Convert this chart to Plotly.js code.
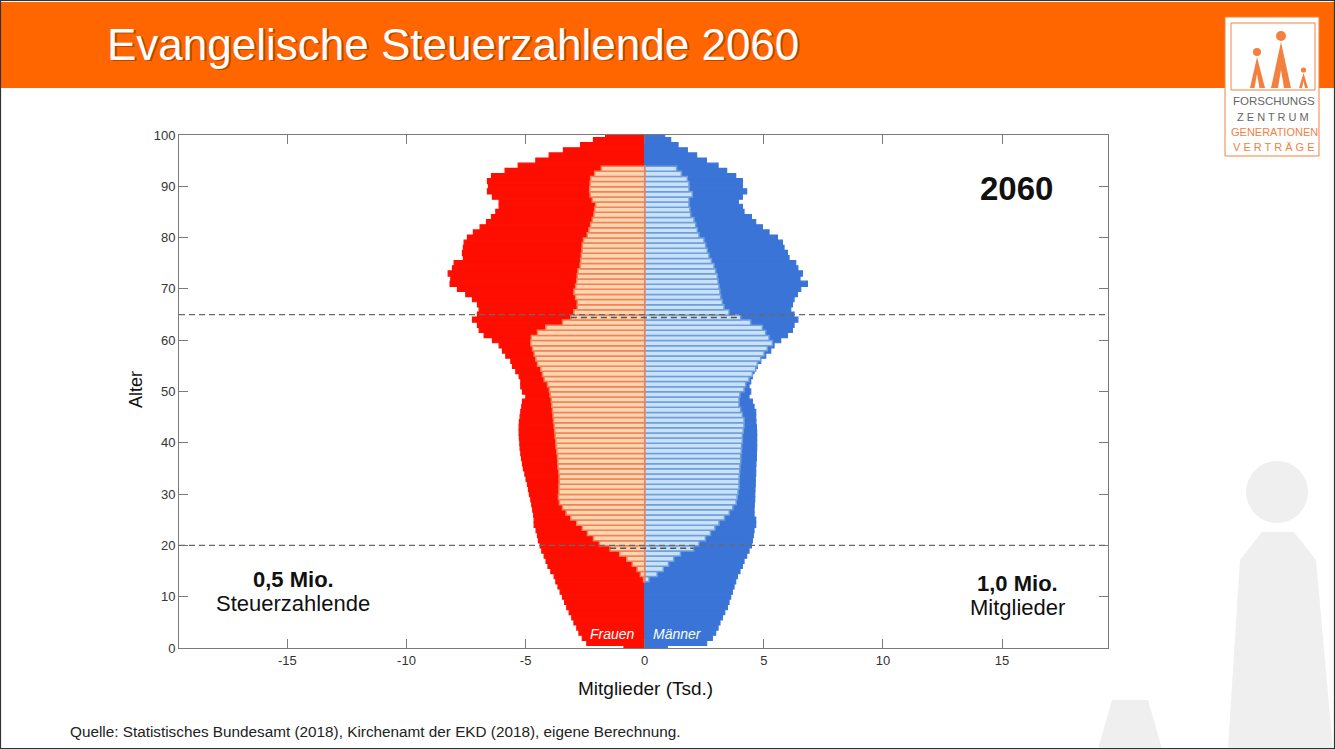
<!DOCTYPE html>
<html>
<head>
<meta charset="utf-8">
<script src="https://cdn.plot.ly/plotly-3.0.1.min.js"></script>
<style>
html,body{margin:0;padding:0;background:#fff;}
#chart{width:1335px;height:749px;}
</style>
</head>
<body>
<div id="chart"></div>
<script>

/* ==========================================
   DATA (Mitglieder / Steuerzahlende, Tsd.)
========================================== */

const ages = [
0,1,2,3,4,5,6,7,8,9,
10,11,12,13,14,15,16,17,18,19,
20,21,22,23,24,25,26,27,28,29,
30,31,32,33,34,35,36,37,38,39,
40,41,42,43,44,45,46,47,48,49,
50,51,52,53,54,55,56,57,58,59,
60,61,62,63,64,65,66,67,68,69,
70,71,72,73,74,75,76,77,78,79,
80,81,82,83,84,85,86,87,88,89,
90,91,92,93,94,95,96,97,98,99,
100];

const femaleMembers = [
0.87,2.43,2.62,2.76,2.85,2.97,3.06,3.17,3.27,3.36,
3.45,3.55,3.64,3.73,3.80,3.94,4.06,4.14,4.22,4.32,
4.39,4.46,4.50,4.56,4.64,4.64,4.66,4.70,4.74,4.78,
4.84,4.88,4.92,4.98,5.03,5.09,5.13,5.17,5.20,5.23,
5.24,5.26,5.27,5.27,5.26,5.23,5.20,5.16,5.13,4.99,
5.13,5.20,5.20,5.27,5.41,5.55,5.62,5.83,5.97,6.11,
6.39,6.74,6.95,7.02,7.23,7.02,6.95,7.02,7.23,7.51,
7.86,8.17,8.14,8.25,8.07,8.00,7.61,7.65,7.61,7.58,
7.44,7.19,6.91,6.64,6.43,6.25,6.11,6.11,6.39,6.60,
6.56,6.60,6.43,5.86,5.31,4.57,4.01,3.41,2.69,2.15,
1.64];

const maleMembers = [
0.95,2.60,2.84,2.98,3.08,3.16,3.26,3.36,3.47,3.54,
3.61,3.68,3.75,3.82,3.89,4.00,4.10,4.17,4.28,4.38,
4.48,4.52,4.56,4.59,4.66,4.66,4.59,4.59,4.60,4.62,
4.62,4.63,4.64,4.64,4.66,4.66,4.67,4.69,4.69,4.70,
4.70,4.70,4.70,4.69,4.67,4.66,4.66,4.59,4.52,4.38,
4.45,4.38,4.45,4.52,4.59,4.73,4.87,5.08,5.29,5.43,
5.71,5.99,6.20,6.27,6.43,6.27,6.13,6.20,6.27,6.41,
6.55,6.83,6.52,6.62,6.43,6.34,6.06,5.99,5.85,5.78,
5.57,5.22,4.94,4.66,4.48,4.17,4.10,3.93,4.10,4.28,
4.10,4.10,3.82,3.44,3.08,2.59,2.18,1.79,1.40,1.09,
0.84];

const taxAges = [
14,15,16,17,18,19,
20,21,22,23,24,25,26,27,28,29,
30,31,32,33,34,35,36,37,38,39,
40,41,42,43,44,45,46,47,48,49,
50,51,52,53,54,55,56,57,58,59,
60,61,62,63,64,65,66,67,68,69,
70,71,72,73,74,75,76,77,78,79,
80,81,82,83,84,85,86,87,88,89,
90,91,92,93,94];

const femaleTax = [
0.05,0.18,0.32,0.52,0.75,1.05,
1.45,1.90,2.15,2.40,2.62,2.85,3.10,3.30,3.45,3.58,
3.62,3.60,3.60,3.59,3.59,3.61,3.64,3.65,3.66,3.69,
3.72,3.73,3.76,3.78,3.80,3.83,3.85,3.87,3.90,3.92,
3.97,4.00,4.08,4.22,4.29,4.36,4.50,4.57,4.64,4.71,
4.78,4.76,4.50,4.15,3.45,3.10,2.97,2.83,2.83,2.90,
2.97,2.90,2.85,2.83,2.80,2.71,2.69,2.66,2.63,2.62,
2.57,2.41,2.34,2.27,2.20,2.13,2.10,2.06,2.20,2.29,
2.31,2.29,2.27,2.10,1.82];

const maleTax = [
0.18,0.52,0.78,1.00,1.22,1.50,
2.05,2.28,2.55,2.76,2.95,3.12,3.35,3.55,3.70,3.84,
3.88,3.92,3.96,3.96,3.97,3.99,4.00,4.03,4.03,4.06,
4.07,4.10,4.10,4.14,4.17,4.17,4.10,4.03,3.96,3.96,
4.00,4.17,4.24,4.38,4.52,4.66,4.73,4.87,5.01,5.15,
5.36,5.22,5.08,4.94,4.45,4.03,3.54,3.33,3.26,3.19,
3.16,3.12,3.08,3.05,2.98,2.91,2.80,2.70,2.63,2.56,
2.49,2.28,2.21,2.14,2.07,1.93,1.90,1.86,1.86,2.00,
1.86,1.86,1.79,1.54,1.34];

const xTickVals = [-15,-10,-5,0,5,10,15];
const xTickText = ["-15","-10","-5","0","5","10","15"];
const yTickVals = [0,10,20,30,40,50,60,70,80,90,100];

const limitAges = [20,65];


/* ==========================================
   LAYOUT HELPERS (pixel -> paper)
========================================== */

const PLOT_L = 179, PLOT_R = 1108, PLOT_T = 135, PLOT_B = 648;

// inner picture (taxpayers) sits a little lower than the outer one
const INNER_SHIFT = 0.57;

function px(x){ return (x-PLOT_L)/(PLOT_R-PLOT_L); }

function py(y){ return (PLOT_B-y)/(PLOT_B-PLOT_T); }

function pathOf(points){
    return points.map((p,i)=>(i===0?"M":"L")+px(p[0]).toFixed(5)+","+py(p[1]).toFixed(5)).join(" ")+" Z";
}

function circleOf(cx,cy,r,color,layer){
    return {
        type:"circle", xref:"paper", yref:"paper", layer:layer||"above",
        x0:px(cx-r), x1:px(cx+r), y0:py(cy+r), y1:py(cy-r),
        fillcolor:color, line:{width:0}
    };
}

function polyOf(points,color,layer){
    return {
        type:"path", xref:"paper", yref:"paper", layer:layer||"above",
        path:pathOf(points), fillcolor:color, line:{width:0}
    };
}

const FONT = "Liberation Sans, Arial, sans-serif";
const ORANGE = "#ff6600";
const LOGO = "#f4803f";
const WATER = "#efefef";


/* ==========================================
   TRACES
========================================== */

const traces = [
    {
        type:"bar", orientation:"h",
        y:ages, x:femaleMembers.map(v=>-v), width:1,
        marker:{color:"#fe0e00", line:{color:"#fe0e00", width:1.2}},
        hoverinfo:"skip", showlegend:false
    },
    {
        type:"bar", orientation:"h",
        y:ages, x:maleMembers, width:1,
        marker:{color:"#3a74d6", line:{color:"#3a74d6", width:1.2}},
        hoverinfo:"skip", showlegend:false
    },
    {
        type:"bar", orientation:"h",
        y:taxAges.map(a=>a-INNER_SHIFT), x:maleTax, width:1,
        marker:{color:"#c9e2f8", line:{color:"#6f9edd", width:1.5}},
        hoverinfo:"skip", showlegend:false
    },
    {
        type:"bar", orientation:"h",
        y:taxAges.map(a=>a-INNER_SHIFT), x:femaleTax.map(v=>-v), width:1,
        marker:{color:"#fdd5ae", line:{color:"#ef8259", width:1.5}},
        hoverinfo:"skip", showlegend:false
    }
];


/* ==========================================
   SHAPES (limits, banner, logo, watermark)
========================================== */

const shapes = [];

// slide banner
shapes.push({
    type:"rect", xref:"paper", yref:"paper", layer:"below",
    x0:px(0), x1:px(1335), y0:py(88), y1:py(2),
    fillcolor:ORANGE, line:{width:0}
});

// watermark in the lower right corner
shapes.push(circleOf(1277,492,31,WATER,"below"));
shapes.push(polyOf([[1262,532],[1294,532],[1316,560],[1333,749],[1228,749],[1240,560]],WATER,"below"));
shapes.push(polyOf([[1112,700],[1148,700],[1162,749],[1098,749]],WATER,"below"));

// age limits 20 / 65
limitAges.forEach(a=>{
    shapes.push({
        type:"line", xref:"paper", yref:"y", layer:"above",
        x0:0, x1:1, y0:a, y1:a,
        line:{color:"#6a6a6a", width:1.3, dash:"6px,4px"}
    });
    const i = taxAges.indexOf(a);
    shapes.push({
        type:"line", xref:"x", yref:"y", layer:"above",
        x0:-femaleTax[i], x1:maleTax[i], y0:a-INNER_SHIFT, y1:a-INNER_SHIFT,
        line:{color:"#555555", width:1.5, dash:"6px,4px"}
    });
});

// logo box
shapes.push({
    type:"rect", xref:"paper", yref:"paper", layer:"above",
    x0:px(1225), x1:px(1319), y0:py(156), y1:py(17),
    fillcolor:"#ffffff", line:{color:LOGO, width:1}
});
shapes.push({
    type:"rect", xref:"paper", yref:"paper", layer:"above",
    x0:px(1231), x1:px(1315), y0:py(90), y1:py(23),
    fillcolor:"rgba(0,0,0,0)", line:{color:LOGO, width:1}
});

// logo figures
shapes.push(polyOf([[1281,42],[1291,88],[1271,88]],LOGO));
shapes.push(polyOf([[1257,57],[1265,88],[1250,88]],LOGO));
shapes.push(polyOf([[1303.5,73],[1308,88],[1299,88]],LOGO));
shapes.push(polyOf([[1281,70],[1284,88],[1278,88]],"#ffffff"));
shapes.push(polyOf([[1257,74],[1259.5,88],[1254.5,88]],"#ffffff"));
shapes.push(polyOf([[1303.5,81],[1305,88],[1302,88]],"#ffffff"));
shapes.push(circleOf(1281,36,5,LOGO));
shapes.push(circleOf(1257,52,4,LOGO));
shapes.push(circleOf(1303.5,70,2.6,LOGO));

// slide frame
shapes.push({
    type:"rect", xref:"paper", yref:"paper", layer:"above",
    x0:px(0.5), x1:px(1334.5), y0:py(748.5), y1:py(0.5),
    fillcolor:"rgba(0,0,0,0)", line:{color:"#333333", width:1.2}
});


/* ==========================================
   ANNOTATIONS
========================================== */

function note(text,x,y,size,opts){
    return Object.assign({
        text:text, xref:"paper", yref:"paper",
        x:px(x), y:py(y), xanchor:"center", yanchor:"middle",
        showarrow:false,
        font:{family:FONT, size:size, color:"#111111"}
    },opts||{});
}

const annotations = [
    // title with a soft shadow
    note("Evangelische Steuerzahlende 2060",107,46,44,{
        xanchor:"left", font:{family:FONT, size:44, color:"rgba(90,30,0,0.45)"}
    }),
    note("Evangelische Steuerzahlende 2060",105,44,44,{
        xanchor:"left", font:{family:FONT, size:44, color:"#ffffff"}
    }),

    note("<b>2060</b>",1016,188,33),
    note("<b>0,5 Mio.</b>",293,579,22),
    note("Steuerzahlende",293,603,22),
    note("<b>1,0 Mio.</b>",1017,583,22),
    note("Mitglieder",1017,607,22),

    note("<i>Frauen</i>",612,634,14,{font:{family:FONT, size:14, color:"#ffffff"}}),
    note("<i>Männer</i>",677,634,14,{font:{family:FONT, size:14, color:"#ffffff"}}),

    note("Alter",136,390,18,{textangle:-90}),
    note("Mitglieder (Tsd.)",645,688,19),

    note("Quelle: Statistisches Bundesamt (2018), Kirchenamt der EKD (2018), eigene Berechnung.",68,731,15.3,{
        xanchor:"left", font:{family:FONT, size:15.3, color:"#222222"}
    }),

    // logo texts
    note("FORSCHUNGS",1274,101,11.5,{font:{family:FONT, size:11.5, color:"#666666"}}),
    note("Z E N T R U M",1273,117,11,{font:{family:FONT, size:11, color:"#666666"}}),
    note("GENERATIONEN",1274,132,11,{font:{family:FONT, size:11, color:LOGO}}),
    note("V E R T R Ä G E",1274,147,11,{font:{family:FONT, size:11, color:LOGO}})
];


/* ==========================================
   PLOT
========================================== */

const axisCommon = {
    showline:true, mirror:"ticks", linecolor:"#7a7a7a", linewidth:1,
    ticks:"inside", ticklen:9, tickcolor:"#7a7a7a", tickwidth:1,
    showgrid:false, zeroline:false,
    tickfont:{family:FONT, size:13, color:"#333333"},
    fixedrange:true
};

Plotly.newPlot(
    "chart",
    traces,
    {
        width:1335,
        height:749,
        barmode:"overlay",
        bargap:0,
        paper_bgcolor:"#ffffff",
        plot_bgcolor:"#ffffff",
        margin:{l:PLOT_L, r:1335-PLOT_R, t:PLOT_T, b:749-PLOT_B},
        xaxis:Object.assign({}, axisCommon, {
            range:[-19.55,19.45],
            tickvals:xTickVals,
            ticktext:xTickText
        }),
        yaxis:Object.assign({}, axisCommon, {
            range:[0,100],
            tickvals:yTickVals
        }),
        shapes:shapes,
        annotations:annotations
    },
    {
        staticPlot:true,
        displayModeBar:false
    }
);

</script>
</body>
</html>
